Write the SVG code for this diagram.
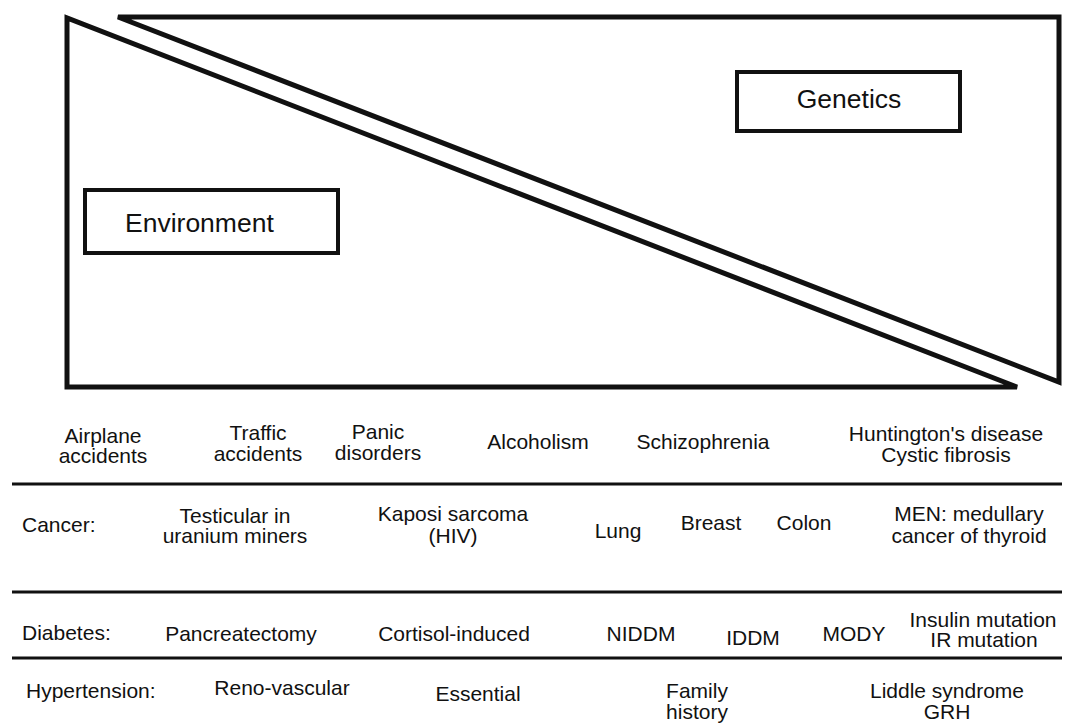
<svg xmlns="http://www.w3.org/2000/svg" width="1070" height="725" viewBox="0 0 1070 725">
<style>
.tri{fill:none;stroke:#111;stroke-width:5;stroke-linejoin:miter}
.box{fill:#fff;stroke:#111;stroke-width:4}
.rule{stroke:#111;stroke-width:3}
text{font-family:"Liberation Sans",Arial,sans-serif;fill:#111}
.big{font-size:26.5px}
.t{font-size:21px}
.m{text-anchor:middle}
</style>
<rect width="1070" height="725" fill="#fff"/>
<g id="environment-triangle"><polygon class="tri" points="67,18 67,387 1017,387"/></g>
<g id="genetics-triangle"><polygon class="tri" points="118,17 1059,17 1059,382"/></g>
<g id="genetics"><rect class="box" x="737" y="72" width="223" height="59"/><text class="big m" x="849" y="108">Genetics</text></g>
<g id="environment"><rect class="box" x="85" y="190" width="253" height="63"/><text class="big" x="125" y="232">Environment</text></g>
<g id="rules">
<line class="rule" x1="12" y1="484" x2="1062" y2="484"/>
<line class="rule" x1="12" y1="592" x2="1062" y2="592"/>
<line class="rule" x1="12" y1="658" x2="1062" y2="658"/>
</g>
<g id="row-general">
<text class="t m" x="103" y="443">Airplane</text><text class="t m" x="103" y="463">accidents</text>
<text class="t m" x="258" y="440">Traffic</text><text class="t m" x="258" y="461">accidents</text>
<text class="t m" x="378" y="439">Panic</text><text class="t m" x="378" y="460">disorders</text>
<text class="t m" x="538" y="449">Alcoholism</text>
<text class="t m" x="703" y="449">Schizophrenia</text>
<text class="t m" x="946" y="441">Huntington's disease</text><text class="t m" x="946" y="462">Cystic fibrosis</text>
</g>
<g id="row-cancer">
<text class="t" x="22" y="532">Cancer:</text>
<text class="t m" x="235" y="523">Testicular  in</text><text class="t m" x="235" y="543">uranium miners</text>
<text class="t m" x="453" y="521">Kaposi sarcoma</text><text class="t m" x="453" y="543">(HIV)</text>
<text class="t m" x="618" y="538">Lung</text>
<text class="t m" x="711" y="530">Breast</text>
<text class="t m" x="804" y="530">Colon</text>
<text class="t m" x="969" y="521">MEN: medullary</text><text class="t m" x="969" y="543">cancer of thyroid</text>
</g>
<g id="row-diabetes">
<text class="t" x="22" y="640">Diabetes:</text>
<text class="t m" x="241" y="641">Pancreatectomy</text>
<text class="t m" x="454" y="641">Cortisol-induced</text>
<text class="t m" x="641" y="641">NIDDM</text>
<text class="t m" x="753" y="645">IDDM</text>
<text class="t m" x="854" y="641">MODY</text>
<text class="t m" x="983" y="627">Insulin mutation</text><text class="t m" x="984" y="647">IR mutation</text>
</g>
<g id="row-hypertension">
<text class="t" x="26" y="698">Hypertension:</text>
<text class="t m" x="282" y="695">Reno-vascular</text>
<text class="t m" x="478" y="701">Essential</text>
<text class="t m" x="697" y="698">Family</text><text class="t m" x="697" y="719">history</text>
<text class="t m" x="947" y="698">Liddle syndrome</text><text class="t m" x="947" y="719">GRH</text>
</g>
</svg>
